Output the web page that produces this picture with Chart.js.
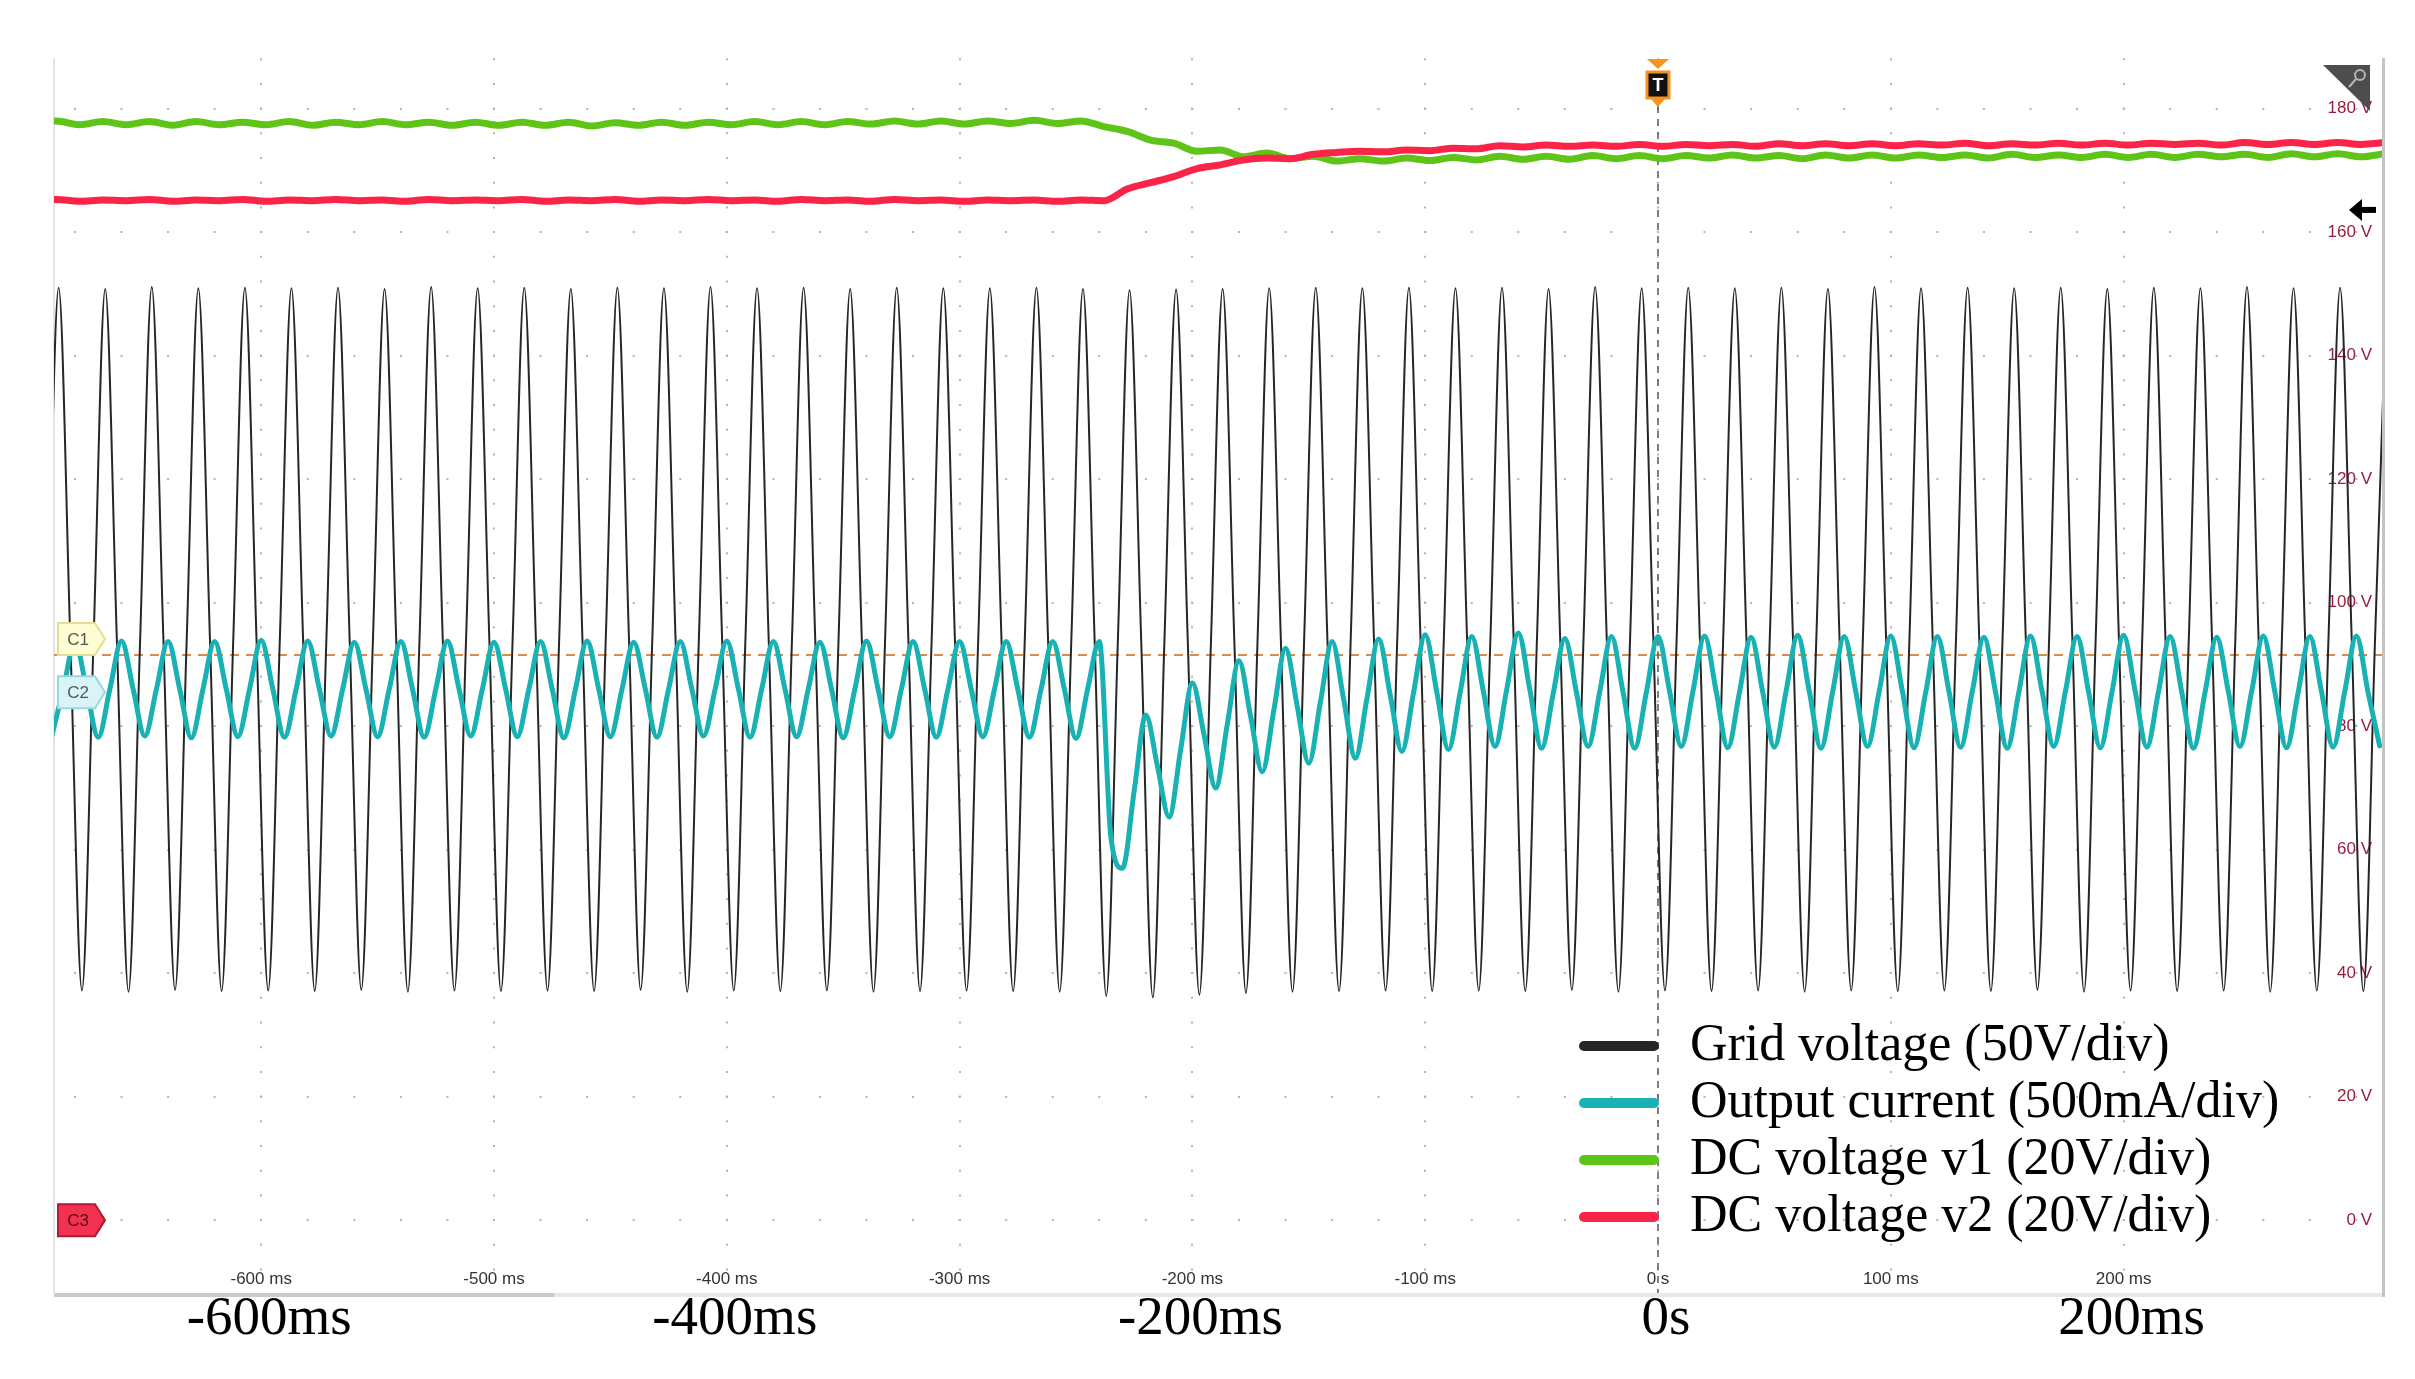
<!DOCTYPE html>
<html>
<head>
<meta charset="utf-8">
<script src="https://cdn.jsdelivr.net/npm/chart.js@4.4.1/dist/chart.umd.min.js"></script>
<style>
  html, body { margin: 0; padding: 0; background: #fff; }
  #wrap { width: 2415px; height: 1379px; position: relative; }
</style>
</head>
<body>
<div id="wrap"><canvas id="scopeChart"></canvas></div>
<script>
// capture window (ms) and vertical range (V, right-hand scale)
const timeMin = -689, timeMax = 311;
const voltMin = -11.8, voltMax = 188.2;

const gridTicks = [-600, -500, -400, -300, -200, -100, 0, 100, 200];
const scopeTickLabels = ['-600 ms', '-500 ms', '-400 ms', '-300 ms', '-200 ms', '-100 ms', '0 s', '100 ms', '200 ms'];
const axisTickValues = [-600, -400, -200, 0, 200];
const axisTickLabels = ['-600ms', '-400ms', '-200ms', '0s', '200ms'];
const voltTicks = [0, 20, 40, 60, 80, 100, 120, 140, 160, 180];
const voltTickLabels = ['0 V', '20 V', '40 V', '60 V', '80 V', '100 V', '120 V', '140 V', '160 V', '180 V'];

const seriesNames = ['Grid voltage (50V/div)', 'Output current (500mA/div)', 'DC voltage v1 (20V/div)', 'DC voltage v2 (20V/div)'];

// sample clocks (start ms, step ms)
const gridStart = -692, gridStep = 5;
const currentStart = -690, currentStep = 5;
const dcStart = -698, dcStep = 10;

const gridVoltage = [
  94,151.0,94,37.2, 94,150.8,94,37.0, 94,151.1,94,37.3, 94,150.9,94,37.1, 94,151.0,94,37.2,
  94,150.9,94,37.1, 94,151.0,94,37.3, 94,150.8,94,37.0, 94,151.1,94,37.2, 94,150.9,94,37.1,
  94,151.0,94,37.2, 94,150.8,94,37.1, 94,151.0,94,37.3, 94,150.9,94,37.0, 94,151.1,94,37.2,
  94,150.9,94,37.1, 94,151.0,94,37.2, 94,150.8,94,37.0, 94,151.0,94,37.1, 94,150.9,94,37.2,
  94,150.9,94,37.1, 94,151.0,94,37.0, 94,150.8,94,36.3, 94,150.6,94,36.1, 94,150.7,94,36.5,
  94,150.8,94,36.8, 94,150.9,94,37.0, 94,151.0,94,37.1, 94,150.9,94,37.2, 94,151.0,94,37.1,
  94,150.9,94,37.2, 94,151.0,94,37.1, 94,150.8,94,37.3, 94,151.1,94,37.0, 94,150.9,94,37.2,
  94,151.0,94,37.1, 94,150.9,94,37.2, 94,151.0,94,37.0, 94,150.8,94,37.2, 94,151.1,94,37.1,
  94,150.9,94,37.2, 94,151.0,94,37.1, 94,150.9,94,37.3, 94,151.0,94,37.0, 94,150.8,94,37.2,
  94,151.0,94,37.1, 94,150.9,94,37.2, 94,151.1,94,37.0, 94,150.9,94,37.2, 94,151.0,94,37.1,
  94,150.9
];

const outputCurrent = [
  78.3,86.0,93.6,86.0, 78.2,86.0,93.8,86.0, 78.4,86.0,93.7,86.0, 78.1,86.0,93.7,86.0, 78.3,86.0,93.9,86.0,
  78.2,86.0,93.8,86.0, 78.4,86.0,93.6,86.0, 78.3,86.0,93.7,86.0, 78.2,86.0,93.8,86.0, 78.4,86.0,93.6,86.0,
  78.3,86.0,93.7,86.0, 78.1,86.0,93.8,86.0, 78.3,86.0,93.6,86.0, 78.2,86.0,93.7,86.0, 78.4,86.0,93.8,86.0,
  78.2,86.0,93.7,86.0, 78.3,86.0,93.6,86.0, 78.1,86.0,93.8,86.0, 78.3,86.0,93.7,86.0, 78.2,86.0,93.7,86.0,
  78.3,86.0,93.7,86.0, 78.2,86.0,93.7,86.0, 78.0,86.0,93.7,62.0, 57.0,69.5,81.8,73.5, 65.3,76.3,87.0,78.6,
  70.0,80.3,90.6,81.6, 72.6,82.6,92.6,83.3, 74.0,83.9,93.7,84.3, 74.8,84.5,94.1,85.0, 75.9,85.4,94.8,85.5,
  76.2,85.4,94.5,85.6, 76.7,85.9,95.1,85.8, 76.4,85.3,94.2,85.4, 76.7,85.6,94.5,85.5, 76.4,85.5,94.5,85.6,
  76.7,85.6,94.6,85.6, 76.5,85.5,94.4,85.5, 76.6,85.6,94.7,85.6, 76.4,85.5,94.5,85.5, 76.7,85.6,94.6,85.6,
  76.5,85.5,94.5,85.6, 76.6,85.6,94.4,85.5, 76.4,85.5,94.6,85.6, 76.7,85.6,94.5,85.5, 76.5,85.5,94.7,85.6,
  76.6,85.6,94.5,85.5, 76.4,85.5,94.4,85.6, 76.7,85.6,94.6,85.5, 76.5,85.5,94.5,85.6, 76.6,85.6,94.6,85.5,
  76.8
];

const dcVoltage1 = [
  177.5,178.0,177.4,177.9,177.4,177.9,177.3,177.9,177.4,177.8,
  177.4,177.9,177.3,177.8,177.4,177.9,177.4,177.8,177.3,177.8,
  177.3,177.8,177.3,177.8,177.2,177.7,177.3,177.8,177.3,177.8,
  177.4,177.9,177.4,177.9,177.4,177.9,177.5,178.0,177.5,178.0,
  177.5,178.0,177.6,178.1,177.6,178.0,177.1,176.3,174.9,174.4,
  173.1,173.3,172.2,172.8,171.9,172.3,171.5,171.9,171.5,172.0,
  171.6,172.1,171.7,172.3,171.8,172.3,171.8,172.4,171.9,172.4,
  171.9,172.4,172.0,172.5,172.0,172.4,171.9,172.5,172.0,172.5,
  172.0,172.5,172.1,172.5,172.0,172.6,172.1,172.5,172.1,172.6,
  172.1,172.6,172.1,172.6,172.2,172.6,172.1,172.7,172.2,172.7,
  172.2,172.7
];

const dcVoltage2 = [
  165.1,165.3,165.0,165.2,165.1,165.3,165.0,165.2,165.1,165.3,
  165.0,165.2,165.1,165.3,165.1,165.2,165.0,165.3,165.1,165.2,
  165.1,165.3,165.0,165.2,165.1,165.3,165.0,165.2,165.1,165.3,
  165.1,165.2,165.0,165.3,165.1,165.2,165.0,165.3,165.1,165.2,
  165.0,165.2,165.1,165.2,165.0,165.2,165.1,167.0,168.0,169.0,
  170.3,170.9,171.7,172.0,171.9,172.6,172.9,173.1,173.0,173.3,
  173.2,173.6,173.5,174.0,173.8,174.1,173.9,174.1,173.9,174.2,
  173.9,174.2,174.0,174.2,173.9,174.3,174.0,174.3,174.0,174.3,
  174.0,174.3,174.1,174.4,174.0,174.3,174.1,174.4,174.1,174.4,
  174.1,174.4,174.2,174.4,174.1,174.5,174.2,174.5,174.2,174.5,
  174.2,174.5
];

// channel ground markers, trigger level, trigger time
const channelNames = ['C1', 'C2', 'C3'];
const channelLevels = [94.1, 85.5, 0];
const triggerLevel = 91.5;
const refArrowLevel = 163.6;
const triggerTime = 0;

function toPoints(start, step, values) {
  return values.map((v, i) => ({ x: start + i * step, y: v }));
}

function seg(ctx, x1, y1, x2, y2) {
  ctx.beginPath(); ctx.moveTo(x1, y1); ctx.lineTo(x2, y2); ctx.stroke();
}

const channelStyles = [
  { fill: '#fdfcd2', stroke: '#e6dd8e', text: '#555' },
  { fill: '#d9f4f6', stroke: '#98d9df', text: '#555' },
  { fill: '#f2334f', stroke: '#b01a33', text: '#5a0c18' }
];

const scopeDecor = {
  id: 'scopeDecor',
  beforeDatasetsDraw(chart) {
    const { ctx, chartArea: a, scales: { x, y } } = chart;
    ctx.save();
    // frame
    ctx.strokeStyle = '#e4e4e4'; ctx.lineWidth = 2;
    seg(ctx, a.left, a.top, a.left, a.bottom);
    ctx.strokeStyle = '#c4c4c4'; ctx.lineWidth = 3;
    seg(ctx, a.right + 1.5, a.top, a.right + 1.5, a.bottom + 4);
    ctx.strokeStyle = '#e8e8e8'; ctx.lineWidth = 4;
    seg(ctx, a.left, a.bottom + 2, a.right, a.bottom + 2);
    ctx.strokeStyle = '#cacaca';
    seg(ctx, a.left, a.bottom + 2, a.left + 0.215 * (a.right - a.left), a.bottom + 2);

    // right-hand volt labels
    ctx.font = '17px "Liberation Sans", Arial, sans-serif';
    ctx.fillStyle = '#9c1c3c';
    ctx.textAlign = 'right'; ctx.textBaseline = 'middle';
    voltTicks.forEach((v, i) => ctx.fillText(voltTickLabels[i], a.right - 10, y.getPixelForValue(v)));

    // scope time labels inside the bottom of the grid
    ctx.fillStyle = '#333';
    ctx.textAlign = 'center';
    gridTicks.forEach((t, i) => ctx.fillText(scopeTickLabels[i], x.getPixelForValue(t), a.bottom - 14));

    // trigger level line
    ctx.setLineDash([9, 7]);
    ctx.strokeStyle = '#d98c4c'; ctx.lineWidth = 2;
    const ty = y.getPixelForValue(triggerLevel);
    seg(ctx, a.left, ty, a.right, ty);

    // trigger time line
    ctx.setLineDash([7, 6]);
    ctx.strokeStyle = '#555'; ctx.lineWidth = 1.5;
    const tx = x.getPixelForValue(triggerTime);
    seg(ctx, tx, a.top + 48, tx, a.bottom);
    ctx.restore();
  },
  afterDatasetsDraw(chart) {
    const { ctx, chartArea: a, scales: { x, y } } = chart;
    ctx.save();
    const tx = x.getPixelForValue(triggerTime);

    // trigger "T" marker
    ctx.fillStyle = '#f7941d';
    ctx.beginPath();
    ctx.moveTo(tx - 11, a.top + 1); ctx.lineTo(tx + 11, a.top + 1); ctx.lineTo(tx, a.top + 11);
    ctx.closePath(); ctx.fill();
    ctx.fillStyle = '#111'; ctx.strokeStyle = '#f7941d'; ctx.lineWidth = 3;
    ctx.fillRect(tx - 11, a.top + 14, 22, 26);
    ctx.strokeRect(tx - 11, a.top + 14, 22, 26);
    ctx.fillStyle = '#f7941d';
    ctx.beginPath();
    ctx.moveTo(tx - 7, a.top + 41); ctx.lineTo(tx + 7, a.top + 41); ctx.lineTo(tx, a.top + 49);
    ctx.closePath(); ctx.fill();
    ctx.fillStyle = '#fff';
    ctx.font = 'bold 18px "Liberation Sans", Arial, sans-serif';
    ctx.textAlign = 'center'; ctx.textBaseline = 'middle';
    ctx.fillText('T', tx, a.top + 28);

    // channel markers
    ctx.font = '17px "Liberation Sans", Arial, sans-serif';
    channelNames.forEach((name, i) => {
      const cy = y.getPixelForValue(channelLevels[i]);
      const l = a.left + 4, st = channelStyles[i];
      ctx.beginPath();
      ctx.moveTo(l, cy - 16); ctx.lineTo(l + 37, cy - 16); ctx.lineTo(l + 47, cy);
      ctx.lineTo(l + 37, cy + 16); ctx.lineTo(l, cy + 16); ctx.closePath();
      ctx.fillStyle = st.fill; ctx.fill();
      ctx.strokeStyle = st.stroke; ctx.lineWidth = 2; ctx.stroke();
      ctx.fillStyle = st.text;
      ctx.fillText(name, l + 20, cy + 1);
    });

    // reference arrow on the right
    const ay = y.getPixelForValue(refArrowLevel);
    const tip = a.right - 33;
    ctx.fillStyle = '#000';
    ctx.beginPath();
    ctx.moveTo(tip, ay); ctx.lineTo(tip + 13, ay - 11); ctx.lineTo(tip + 13, ay + 11);
    ctx.closePath(); ctx.fill();
    ctx.fillRect(tip + 12, ay - 3, a.right - 6 - (tip + 12), 6);

    // zoom corner
    ctx.fillStyle = '#4d4d4d';
    ctx.beginPath();
    ctx.moveTo(a.right - 59, a.top + 7); ctx.lineTo(a.right - 12, a.top + 7); ctx.lineTo(a.right - 12, a.top + 53);
    ctx.closePath(); ctx.fill();
    ctx.strokeStyle = '#b5b5b5'; ctx.lineWidth = 2;
    ctx.beginPath(); ctx.arc(a.right - 22, a.top + 17, 5, 0, Math.PI * 2); ctx.stroke();
    seg(ctx, a.right - 26, a.top + 21, a.right - 33, a.top + 29);

    // legend
    const lx = a.right - 803, ly = a.bottom - 247;
    ctx.font = '52px "Liberation Serif", "DejaVu Serif", serif';
    ctx.textAlign = 'left'; ctx.textBaseline = 'middle';
    chart.data.datasets.forEach((ds, i) => {
      const yy = ly + i * 57;
      ctx.strokeStyle = ds.borderColor; ctx.lineWidth = 10; ctx.lineCap = 'round';
      seg(ctx, lx + 5, yy, lx + 75, yy);
      ctx.fillStyle = '#000';
      ctx.fillText(ds.label, lx + 111, yy);
    });
    ctx.restore();
  }
};

new Chart(document.getElementById('scopeChart'), {
  type: 'line',
  data: {
    datasets: [
      { label: seriesNames[0], data: toPoints(gridStart, gridStep, gridVoltage), borderColor: '#262626', borderWidth: 2, order: 4 },
      { label: seriesNames[1], data: toPoints(currentStart, currentStep, outputCurrent), borderColor: '#18b1b4', borderWidth: 5, order: 3 },
      { label: seriesNames[2], data: toPoints(dcStart, dcStep, dcVoltage1), borderColor: '#5ec418', borderWidth: 7, order: 2 },
      { label: seriesNames[3], data: toPoints(dcStart, dcStep, dcVoltage2), borderColor: '#fa2348', borderWidth: 7, order: 1 }
    ]
  },
  options: {
    responsive: true,
    maintainAspectRatio: false,
    animation: false,
    devicePixelRatio: 1,
    layout: { padding: { left: 54, right: 33, top: 58, bottom: 0 } },
    elements: {
      point: { radius: 0 },
      line: { cubicInterpolationMode: 'monotone', borderJoinStyle: 'round', borderCapStyle: 'round' }
    },
    scales: {
      x: {
        type: 'linear', min: timeMin, max: timeMax,
        afterBuildTicks: s => { s.ticks = gridTicks.map(v => ({ value: v })); },
        afterFit: s => { s.height = 86; },
        grid: { color: '#b5b5b5', lineWidth: 2, drawTicks: false },
        border: { display: false, dash: [2, 22.7], dashOffset: 24.5 },
        ticks: {
          autoSkip: false, maxRotation: 0, padding: -6, labelOffset: 8,
          color: '#000',
          font: { family: '"Liberation Serif", "DejaVu Serif", serif', size: 55 },
          callback: v => { const i = axisTickValues.indexOf(v); return i >= 0 ? axisTickLabels[i] : ''; }
        }
      },
      y: {
        type: 'linear', position: 'right', min: voltMin, max: voltMax,
        afterBuildTicks: s => { s.ticks = voltTicks.map(v => ({ value: v })); },
        afterFit: s => { s.width = 0; },
        grid: { color: '#b5b5b5', lineWidth: 2, drawTicks: false },
        border: { display: false, dash: [2, 44.56], dashOffset: 26.6 },
        ticks: { display: false }
      }
    },
    plugins: { legend: { display: false }, tooltip: { enabled: false } }
  },
  plugins: [scopeDecor]
});
</script>
</body>
</html>
